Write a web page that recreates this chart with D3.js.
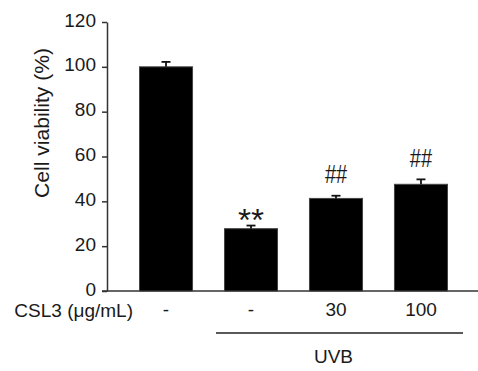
<!DOCTYPE html>
<html><head><meta charset="utf-8">
<script src="https://cdn.jsdelivr.net/npm/d3@7"></script>
<style>body{margin:0;background:#fff}text{font-family:Arial,"Liberation Sans",sans-serif;fill:#1a1a1a}</style>
</head><body><svg id="c" width="478" height="371"></svg>
<script>
const categories = ["-", "-", "30", "100"];
const values = [100, 27.8, 41.3, 47.6];
const errors = [2.2, 1.4, 1.2, 2.2];
const marks = ["", "**", "##", "##"];
const yTicks = [0, 20, 40, 60, 80, 100, 120];
const groupLabel = "CSL3 (\u03bcg/mL)";
const yLabel = "Cell viability (%)";
const bracketLabel = "UVB";

const svg = d3.select("#c");
const x = d3.scaleBand().domain(d3.range(categories.length)).range([139.5, 447.5]).paddingInner(0.376).paddingOuter(0);
const y = d3.scaleLinear().domain([0, 120]).range([291, 22]);
const ax = 107;

// y axis
const yAxis = svg.append("g").attr("transform", `translate(${ax},0)`)
  .call(d3.axisLeft(y).tickValues(yTicks).tickSize(5).tickPadding(6).tickSizeOuter(0));
yAxis.select(".domain").attr("stroke", "#333").attr("stroke-width", 1.5);
yAxis.selectAll(".tick line").attr("stroke", "#333").attr("stroke-width", 1.5);
yAxis.selectAll(".tick text").attr("font-size", 19).attr("fill", "#1a1a1a")
  .attr("font-family", "Arial, 'Liberation Sans', sans-serif").attr("y", -2);

// baseline
svg.append("line").attr("x1", ax - 5).attr("x2", 478).attr("y1", y(0)).attr("y2", y(0)).attr("stroke", "#333").attr("stroke-width", 1.5);

// bars
svg.selectAll("rect.bar").data(values).join("rect").attr("class", "bar")
  .attr("x", (d, i) => x(i)).attr("width", x.bandwidth())
  .attr("y", d => y(d)).attr("height", d => y(0) - y(d))
  .attr("fill", "#000").attr("stroke", "#444").attr("stroke-width", 1);

// error bars
const eb = svg.selectAll("g.eb").data(values).join("g").attr("class", "eb");
eb.append("line").attr("x1", (d, i) => x(i) + x.bandwidth() / 2).attr("x2", (d, i) => x(i) + x.bandwidth() / 2)
  .attr("y1", d => y(d)).attr("y2", (d, i) => y(d + errors[i])).attr("stroke", "#111").attr("stroke-width", 1.8);
eb.append("line").attr("x1", (d, i) => x(i) + x.bandwidth() / 2 - 4.5).attr("x2", (d, i) => x(i) + x.bandwidth() / 2 + 4.5)
  .attr("y1", (d, i) => y(d + errors[i])).attr("y2", (d, i) => y(d + errors[i])).attr("stroke", "#111").attr("stroke-width", 1.8);

// significance marks
marks.forEach((m, i) => {
  if (!m) return;
  const cx = x(i) + x.bandwidth() / 2;
  const top = y(values[i] + errors[i]);
  if (m === "**") {
    svg.append("text").attr("x", cx).attr("y", top + 5).attr("text-anchor", "middle")
      .attr("font-size", 32).attr("textLength", 26).attr("lengthAdjust", "spacingAndGlyphs").text(m);
  } else {
    svg.append("text").attr("transform", `translate(${cx},${top - 12.5}) scale(1,1.25)`).attr("text-anchor", "middle")
      .attr("font-size", 20).text(m);
  }
});

// category labels
svg.selectAll("text.cat").data(categories).join("text").attr("class", "cat")
  .attr("x", (d, i) => x(i) + x.bandwidth() / 2).attr("y", 316).attr("text-anchor", "middle")
  .attr("font-size", 19).text(d => d);

svg.append("text").attr("x", 133).attr("y", 317).attr("text-anchor", "end").attr("font-size", 19).text(groupLabel);

// y label
svg.append("text").attr("transform", "translate(49,123) rotate(-90)").attr("text-anchor", "middle")
  .attr("font-size", 20).attr("textLength", 150).attr("lengthAdjust", "spacingAndGlyphs").text(yLabel);

// UVB bracket
svg.append("line").attr("x1", 216).attr("x2", 463).attr("y1", 333).attr("y2", 333).attr("stroke", "#222").attr("stroke-width", 1.5);
svg.append("text").attr("x", (216 + 463) / 2 - 6).attr("y", 363).attr("text-anchor", "middle").attr("font-size", 19).text(bracketLabel);
</script></body></html>
